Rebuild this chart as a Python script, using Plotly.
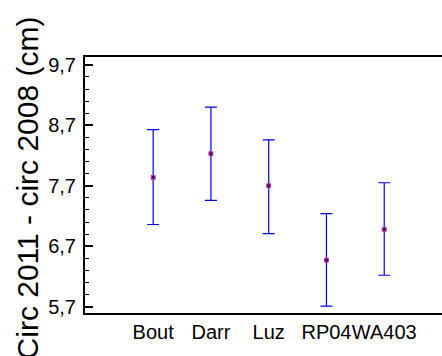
import plotly.graph_objects as go

categories = ["Bout", "Darr", "Luz", "RP04", "WA403"]
means = [7.84, 8.23, 7.70, 6.47, 6.98]
upper = [8.63, 9.00, 8.46, 7.24, 7.75]
lower = [7.06, 7.46, 6.91, 5.71, 6.22]

err_plus = [u - m for u, m in zip(upper, means)]
err_minus = [m - l for m, l in zip(means, lower)]

y_ticks = [5.7, 6.7, 7.7, 8.7, 9.7]
y_tick_labels = ["5,7", "6,7", "7,7", "8,7", "9,7"]
y_title = "Circ 2011 - circ 2008 (cm)"

fig = go.Figure()
fig.add_trace(go.Scatter(
    x=list(range(len(categories))),
    y=means,
    mode="markers",
    marker=dict(symbol="square", size=4, color="#3a0a80",
                line=dict(color="#d04080", width=1)),
    error_y=dict(type="data", symmetric=False, array=err_plus,
                 arrayminus=err_minus, color="#0000ff", thickness=1.2, width=6),
    showlegend=False,
))

fig.update_layout(
    width=442, height=356,
    margin=dict(l=85, r=0, t=57, b=43),
    paper_bgcolor="white", plot_bgcolor="white",
    font=dict(family="Liberation Sans, Arial", color="black", size=18),
    xaxis=dict(
        range=[-1.18, 5.0],
        tickmode="array",
        tickvals=list(range(len(categories))),
        ticktext=categories,
        showgrid=False, zeroline=False, automargin=False,
        showline=True, linecolor="black", linewidth=2, mirror=True,
        ticks="", tickfont=dict(size=20), tickangle=0,
    ),
    yaxis=dict(
        range=[5.596, 9.83],
        tickmode="array",
        tickvals=y_ticks,
        ticktext=y_tick_labels,
        showgrid=False, zeroline=False, automargin=False,
        showline=True, linecolor="black", linewidth=2,
        ticks="inside", ticklen=8, tickwidth=1.5, tickcolor="black",
        minor=dict(ticks="inside", ticklen=4, tickwidth=1.2, tickcolor="black", dtick=0.2, tick0=5.7),
        tickfont=dict(size=20), ticklabelstandoff=3,
    ),
    annotations=[dict(
        text=y_title, textangle=-90, showarrow=False,
        xref="paper", yref="paper", x=-0.16, y=0.49,
        xanchor="center", yanchor="middle",
        font=dict(size=30),
    )],
)

fig.write_html(
    "out.html",
    config={"displayModeBar": False},
    post_script="document.body.style.margin='0';document.body.style.overflow='hidden';",
)
